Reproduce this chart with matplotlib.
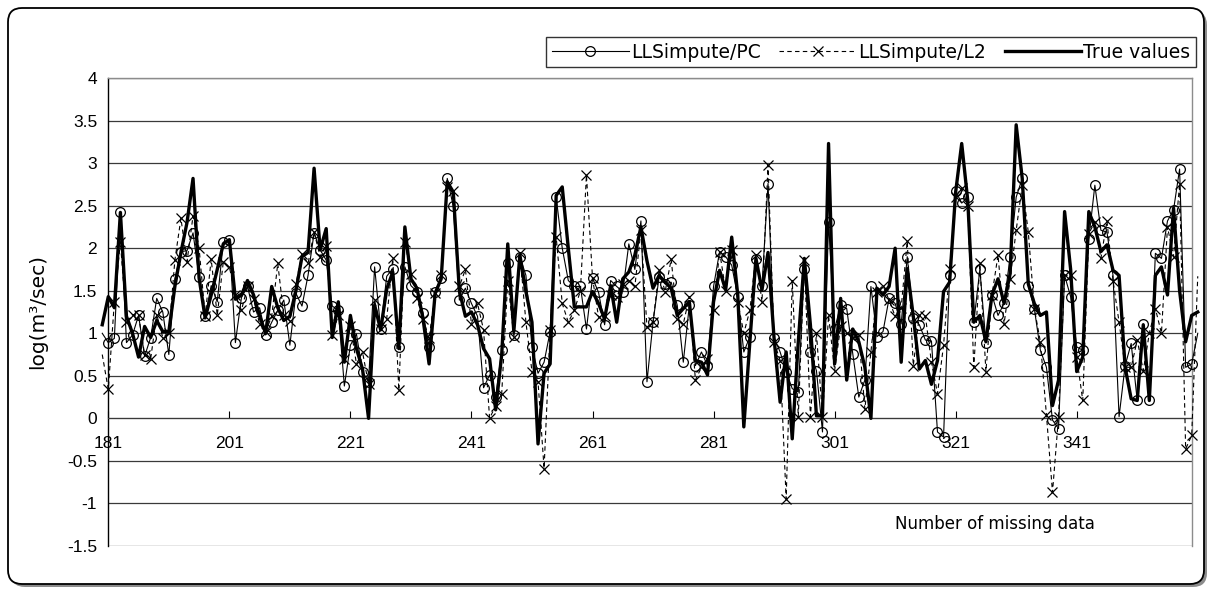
import numpy as np
import matplotlib
matplotlib.use("Agg")
import matplotlib.pyplot as plt
from matplotlib.patches import FancyBboxPatch
from matplotlib.transforms import IdentityTransform

plt.rcParams['font.family'] = ['Liberation Sans', 'DejaVu Sans']

# first point (180) and last point (361) lie just outside the axis range
x_start = 180

true_vals = [
    1.10,
    1.43, 1.30, 2.42, 1.20, 1.00, 0.72, 1.08, 0.95, 1.15, 1.02,
    1.02, 1.55, 1.95, 2.30, 2.82, 1.65, 1.18, 1.45, 1.75, 2.05,
    2.10, 1.40, 1.45, 1.62, 1.45, 1.20, 1.00, 1.55, 1.30, 1.15,
    1.20, 1.50, 1.90, 1.95, 2.94, 1.98, 2.23, 0.95, 1.37, 0.66,
    1.21, 0.82, 0.58, 0.00, 1.33, 1.04, 1.52, 1.72, 0.82, 2.25,
    1.64, 1.53, 1.17, 0.64, 1.47, 1.64, 2.78, 2.66, 1.50, 1.20,
    1.25, 1.10, 0.82, 0.70, 0.10, 0.75, 2.05, 1.02, 1.92, 1.49,
    1.13, -0.30, 0.53, 0.64, 2.62, 2.72, 2.00, 1.31, 1.31, 1.31,
    1.49, 1.35, 1.17, 1.56, 1.13, 1.64, 1.72, 1.92, 2.25, 1.85,
    1.53, 1.68, 1.60, 1.53, 1.21, 1.29, 1.37, 0.68, 0.66, 0.51,
    1.37, 1.74, 1.51, 2.13, 1.45, -0.10, 0.90, 1.88, 1.51, 1.95,
    0.94, 0.19, 0.78, -0.24, 0.90, 1.88, 1.10, 0.03, 0.03, 3.23,
    0.64, 1.41, 0.45, 1.05, 0.90, 0.60, 0.00, 1.53, 1.45, 1.55,
    2.00, 0.66, 1.76, 1.20, 0.58, 0.68, 0.40, 0.68, 1.49, 1.60,
    2.66, 3.23, 2.56, 1.13, 1.21, 0.90, 1.45, 1.64, 1.35, 1.70,
    3.45, 2.82, 1.58, 1.35, 1.21, 1.25, 0.15, 0.45, 2.43, 1.75,
    0.55, 0.72, 2.43, 2.25, 1.96, 2.04, 1.74, 1.68, 0.60, 0.23,
    0.21, 1.10, 0.21, 1.68, 1.78, 1.45, 2.47, 1.50, 0.90, 1.21,
    1.25,
]

pc_vals = [
    1.00,
    0.89, 0.94, 2.42, 0.89, 0.98, 1.21, 0.73, 0.95, 1.41, 1.25,
    0.75, 1.64, 1.96, 1.97, 2.18, 1.66, 1.20, 1.56, 1.37, 2.07,
    2.10, 0.89, 1.42, 1.55, 1.25, 1.30, 0.98, 1.13, 1.27, 1.39,
    0.86, 1.47, 1.32, 1.68, 2.18, 1.98, 1.86, 1.32, 1.27, 0.38,
    0.86, 0.99, 0.55, 0.43, 1.78, 1.05, 1.67, 1.76, 0.84, 1.78,
    1.56, 1.49, 1.24, 0.84, 1.49, 1.65, 2.82, 2.49, 1.39, 1.53,
    1.35, 1.20, 0.36, 0.51, 0.25, 0.80, 1.82, 0.98, 1.90, 1.68,
    0.84, 0.53, 0.66, 1.02, 2.60, 2.00, 1.62, 1.55, 1.55, 1.05,
    1.65, 1.48, 1.10, 1.62, 1.55, 1.49, 2.05, 1.75, 2.32, 0.43,
    1.13, 1.66, 1.58, 1.60, 1.33, 0.66, 1.33, 0.62, 0.78, 0.62,
    1.55, 1.96, 1.90, 1.80, 1.43, 0.78, 0.96, 1.87, 1.55, 2.76,
    0.95, 0.78, 0.55, 0.35, 0.31, 1.75, 0.78, 0.56, -0.16, 2.31,
    1.05, 1.33, 1.29, 0.76, 0.25, 0.45, 1.55, 0.96, 1.02, 1.41,
    1.35, 1.11, 1.90, 1.18, 1.10, 0.92, 0.91, -0.16, -0.22, 1.68,
    2.67, 2.53, 2.60, 1.13, 1.75, 0.89, 1.45, 1.21, 1.35, 1.90,
    2.60, 2.82, 1.56, 1.29, 0.80, 0.60, -0.02, -0.12, 1.68, 1.43,
    0.84, 0.80, 2.11, 2.74, 2.21, 2.19, 1.68, 0.02, 0.62, 0.88,
    0.21, 1.11, 0.21, 1.94, 1.88, 2.32, 2.45, 2.93, 0.60, 0.64,
    1.00,
]

l2_vals = [
    0.75,
    0.34, 1.37, 2.07, 1.13, 1.22, 1.21, 0.75, 0.70, 1.22, 0.95,
    1.00, 1.86, 2.35, 1.84, 2.38, 2.00, 1.20, 1.87, 1.21, 1.84,
    1.78, 1.45, 1.27, 1.55, 1.40, 1.11, 1.02, 1.20, 1.82, 1.21,
    1.15, 1.58, 1.93, 1.82, 2.19, 1.90, 2.03, 0.98, 1.21, 0.70,
    1.09, 0.64, 0.78, 0.40, 1.39, 1.05, 1.17, 1.88, 0.33, 2.07,
    1.70, 1.41, 1.17, 0.94, 1.47, 1.69, 2.72, 2.67, 1.55, 1.75,
    1.11, 1.35, 1.04, 0.00, 0.15, 0.29, 1.62, 0.96, 1.94, 1.13,
    0.55, 0.43, -0.59, 1.04, 2.13, 1.35, 1.13, 1.27, 1.50, 2.86,
    1.65, 1.19, 1.20, 1.45, 1.43, 1.58, 1.62, 1.55, 2.21, 1.07,
    1.13, 1.74, 1.49, 1.87, 1.17, 1.11, 1.43, 0.45, 0.60, 0.70,
    1.27, 1.96, 1.50, 1.98, 1.37, 1.00, 1.27, 1.92, 1.37, 2.98,
    0.90, 0.68, -0.95, 1.62, 0.02, 1.86, 0.02, 1.00, 0.02, 1.21,
    0.56, 1.09, 1.00, 0.95, 0.98, 0.11, 0.78, 1.49, 1.56, 1.39,
    1.20, 1.30, 2.08, 0.62, 1.21, 1.20, 0.66, 0.29, 0.86, 1.75,
    2.60, 2.71, 2.50, 0.60, 1.82, 0.55, 1.45, 1.92, 1.11, 1.64,
    2.21, 2.74, 2.19, 1.29, 0.90, 0.04, -0.87, 0.02, 1.68, 1.68,
    0.72, 0.21, 2.17, 2.31, 1.88, 2.32, 1.62, 1.13, 0.60, 0.60,
    0.92, 0.56, 1.00, 1.29, 1.00, 2.25, 1.90, 2.76, -0.36, -0.20,
    1.67,
]

x_ticks = [181, 201, 221, 241, 261, 281, 301, 321, 341]
y_ticks = [4, 3.5, 3, 2.5, 2, 1.5, 1, 0.5, 0, -0.5, -1, -1.5]

x = np.arange(x_start, x_start + len(true_vals))
n = len(x)
inner = list(range(1, n - 1))

W, H = 1214, 592
fig = plt.figure(figsize=(W / 100, H / 100), dpi=100)

# rounded chart border with shadow
shadow = FancyBboxPatch((11, 5), 1196, 576, boxstyle="round,pad=0,rounding_size=14",
                        transform=IdentityTransform(), fc='#8c8c8c', ec='none', zorder=-3)
border = FancyBboxPatch((8, 8), 1196, 576, boxstyle="round,pad=0,rounding_size=14",
                        transform=IdentityTransform(), fc='white', ec='black', lw=1.3, zorder=-2)
fig.add_artist(shadow)
fig.add_artist(border)

ax = fig.add_axes([108.3 / W, 1 - 546 / H, (1191.7 - 108.3) / W, (546 - 78) / H])
ax.set_facecolor('none')

ax.plot(x, pc_vals, color='black', lw=0.8, marker='o', ms=7, mfc='none', mec='black',
        mew=0.9, markevery=inner, clip_on=False, zorder=3, label='LLSimpute/PC')
ax.plot(x, l2_vals, color='black', lw=0.8, ls=(0, (4, 3)), marker='x', ms=7, mec='black',
        mew=0.9, markevery=inner, clip_on=False, zorder=3, label='LLSimpute/L2')
ax.plot(x, true_vals, color='black', lw=2.4, clip_on=False, zorder=4, label='True values')

ax.set_xlim(181, 360)
ax.set_ylim(-1.5, 4)
ax.set_yticks(y_ticks)
ax.set_yticklabels([f'{v:g}' for v in y_ticks])
ax.set_xticks(x_ticks)
ax.set_xticklabels([str(v) for v in x_ticks])

for v in y_ticks:
    ax.axhline(v, color='#3a3a3a', lw=0.9, zorder=1)

for s in ['top', 'right']:
    ax.spines[s].set_color('#8c8c8c')
    ax.spines[s].set_linewidth(1.0)
ax.spines['left'].set_color('black')
ax.spines['left'].set_linewidth(1.0)
ax.spines['bottom'].set_position(('data', 0))
ax.spines['bottom'].set_color('#3a3a3a')

ax.tick_params(axis='x', direction='in', length=5, width=0.8, pad=13, labelsize=12.5)
ax.tick_params(axis='y', length=0, pad=8, labelsize=12.5)

fig.text(38 / W, 1 - 312 / H, 'log(m³/sec)', rotation=90, ha='center', va='center',
         fontsize=14.5, family='DejaVu Sans')
fig.text(995 / W, 1 - 524 / H, 'Number of missing data', ha='center', va='center',
         fontsize=12, family='DejaVu Sans')

leg = fig.legend(loc='upper right', bbox_to_anchor=(1196 / W, 1 - 37 / H), ncol=3,
                 frameon=True, fancybox=False, edgecolor='black',
                 prop={'family': 'DejaVu Sans', 'size': 13.5},
                 handlelength=4.1, handletextpad=0.1, columnspacing=1.0,
                 borderpad=0.3, borderaxespad=0)
leg.get_frame().set_linewidth(1.0)

fig.savefig('out.png', dpi=100, facecolor='white')
